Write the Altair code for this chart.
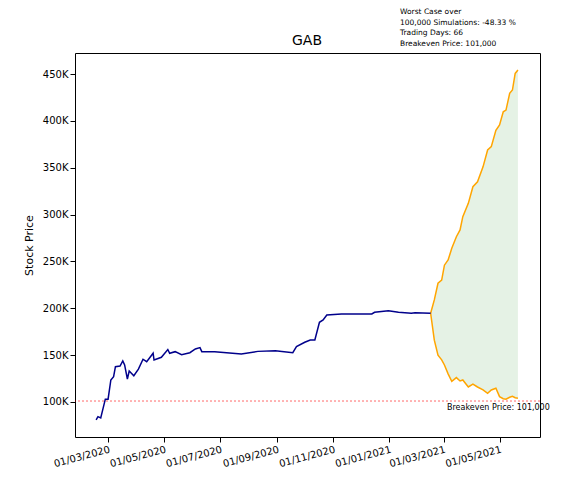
import altair as alt
import pandas as pd

# days from 2020-03-01 and price in thousands
hist_days = [-13, -11, -8, -3, 0, 3, 6, 8, 13, 16, 18, 21, 23, 28, 33, 38, 42, 49, 50, 58,
             65, 67, 73, 80, 89, 95, 100, 102, 116, 145, 163, 182, 201, 205, 214, 220, 225,
             230, 234, 238, 254, 287, 290, 305, 316, 330, 334, 351]
hist_vals = [80.8, 84.3, 83, 103, 103, 123.5, 127, 137.7, 138.4, 143.8, 139.5, 124.5, 133,
             128, 135, 145.6, 143, 152, 144.8, 147.7, 156, 152, 153.7, 150.5, 152.6, 156.6,
             158, 153.7, 153.7, 151.2, 154, 154.7, 152.6, 159, 163.7, 166.2, 166.2, 185,
             187.5, 192.8, 193.9, 193.9, 195.7, 197.4, 195.7, 194.7, 195.3, 194.7]

fc_days = [351, 355, 359, 363, 366, 370, 374, 379, 383, 386, 392, 397, 402, 408, 413, 417,
           422, 426, 430, 433, 437, 440, 443, 446]
fc_best = [194.7, 208.9, 226.7, 230, 246, 251.5, 264, 276.4, 283.6, 297.8, 312, 329.8, 335,
           351, 369, 372.5, 390, 395.6, 409.8, 411.6, 429.5, 433, 450.7, 454.3]
fc_worst = [194.7, 166, 150, 145, 139.5, 130, 122, 126, 122.4, 123.5, 116, 119, 116, 113,
            109.3, 112.8, 114.6, 105.7, 103.5, 103, 105, 106, 104.5, 103.9]

breakeven = 101

base = pd.Timestamp("2020-03-01")
def to_date(d):
    return (base + pd.Timedelta(days=d)).strftime("%Y-%m-%d")

hist = pd.DataFrame({"date": [to_date(d) for d in hist_days], "price": [v * 1000 for v in hist_vals]})
fc = pd.DataFrame({"date": [to_date(d) for d in fc_days],
                   "best": [v * 1000 for v in fc_best],
                   "worst": [v * 1000 for v in fc_worst]})

xscale = alt.Scale(type="utc", domain=[alt.DateTime(year=2020, month=1, date=25, utc=True),
                                       alt.DateTime(year=2021, month=6, date=14, utc=True)])
ticks = [alt.DateTime(year=y, month=m, date=1, utc=True)
         for y, m in [(2020, 3), (2020, 5), (2020, 7), (2020, 9), (2020, 11), (2021, 1), (2021, 3), (2021, 5)]]
xax = alt.Axis(values=ticks, labelExpr="utcFormat(datum.value, '%d/%m/%Y')", labelAngle=-15,
               labelOverlap=False, labelBound=False, labelFlush=False,
               grid=False, title=None, labelFontSize=10, labelColor="black", tickColor="black",
               domain=False)
yscale = alt.Scale(domain=[62600, 472500], nice=False, zero=False)
yax = alt.Axis(values=[100000 + 50000 * i for i in range(8)], labelExpr="format(datum.value/1000, 'd') + 'K'",
               grid=False, title="Stock Price", titleFontWeight="normal", titleFontSize=11,
               labelFontSize=10, labelColor="black", tickColor="black", domain=False, titlePadding=8)

area = alt.Chart(fc).mark_area(color="green", opacity=0.1).encode(
    x=alt.X("date:T", scale=xscale, axis=xax), y=alt.Y("best:Q", scale=yscale, axis=yax), y2="worst:Q")
up = alt.Chart(fc).mark_line(color="orange", strokeWidth=1.5).encode(x="date:T", y="best:Q")
low = alt.Chart(fc).mark_line(color="orange", strokeWidth=1.5).encode(x="date:T", y="worst:Q")
line = alt.Chart(hist).mark_line(color="darkblue", strokeWidth=1.5).encode(x="date:T", y="price:Q")
rule = alt.Chart(pd.DataFrame({"y": [breakeven * 1000]})).mark_rule(
    color="red", strokeDash=[2, 2], strokeWidth=0.6).encode(y="y:Q")
be_label = alt.Chart(pd.DataFrame({"t": ["Breakeven Price: 101,000"]})).mark_text(
    align="left", baseline="middle", fontSize=8, font="DejaVu Sans", clip=False).encode(
    text="t:N", x=alt.value(372), y=alt.value(355))
note = alt.Chart(pd.DataFrame({"t": [["Worst Case over", "100,000 Simulations: -48.33 %",
                                      "Trading Days: 66", "Breakeven Price: 101,000"]]})).mark_text(
    align="left", baseline="top", fontSize=7.5, font="DejaVu Sans", lineHeight=10.5).encode(
    text="t", x=alt.value(325), y=alt.value(-45))
title = alt.Chart(pd.DataFrame({"t": ["GAB"]})).mark_text(
    align="center", baseline="bottom", fontSize=14, font="DejaVu Sans").encode(
    text="t:N", x=alt.value(232), y=alt.value(-5))

chart = alt.layer(area, up, low, line, rule, be_label, note, title).properties(
    width=465, height=384,
    autosize=alt.AutoSizeParams(type="none"),
    padding={"left": 67, "top": 45, "right": 30, "bottom": 50},
).configure_view(stroke="black", strokeWidth=1).configure_axis(
    labelFont="DejaVu Sans", titleFont="DejaVu Sans")

chart.save("out.html", embed_options={"renderer": "svg", "actions": False})
